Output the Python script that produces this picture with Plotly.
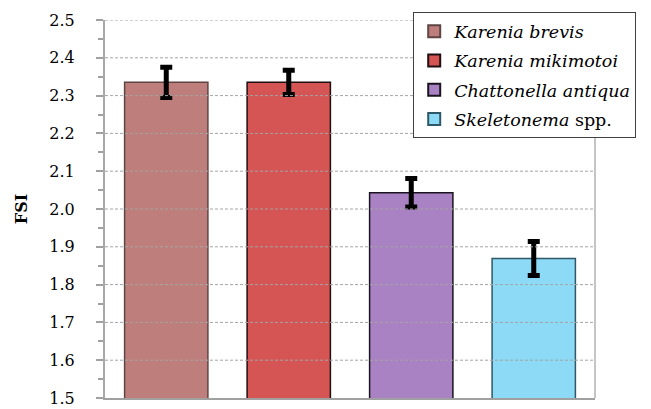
import plotly.graph_objects as go

# Fish-kill susceptibility index by algal species
species = ["Karenia brevis", "Karenia mikimotoi", "Chattonella antiqua", "Skeletonema"]
legend_names = ["<i>Karenia brevis</i>", "<i>Karenia mikimotoi</i>",
                "<i>Chattonella antiqua</i>", "<i>Skeletonema</i> spp."]
fsi = [2.335, 2.335, 2.043, 1.869]
fsi_err = [0.040, 0.032, 0.038, 0.045]
colors = ["#BE7F7C", "#D55454", "#A982C4", "#8CDAF5"]
outlines = ["#5E4544", "#1E1010", "#1A1420", "#2E5868"]
y_ticks = [1.5, 1.6, 1.7, 1.8, 1.9, 2.0, 2.1, 2.2, 2.3, 2.4, 2.5]

FONT = "DejaVu Serif"

fig = go.Figure()
for i, name in enumerate(species):
    fig.add_trace(go.Bar(
        x=[name], y=[fsi[i]],
        name=legend_names[i], legendgroup=name,
        marker=dict(color=colors[i], line=dict(color=outlines[i], width=1.5)),
        error_y=dict(type="data", array=[fsi_err[i]], color="black",
                     thickness=5, width=6),
        base=0,
    ))

# dashed gridlines drawn on top of the bars
for t in y_ticks[1:]:
    fig.add_shape(type="line", xref="paper", yref="y", x0=0, x1=1, y0=t, y1=t,
                  line=dict(color="#A4A4A4", width=1, dash="3px,2px"),
                  layer="above")
# right-hand frame line
fig.add_shape(type="line", xref="paper", yref="paper", x0=1, x1=1, y0=0, y1=1,
              line=dict(color="#8A8A8A", width=1), layer="above")

fig.update_layout(
    width=651, height=409,
    margin=dict(l=105, r=56, t=20, b=11, autoexpand=False),
    paper_bgcolor="white", plot_bgcolor="white",
    barmode="overlay", bargap=0.32,
    font=dict(family=FONT, size=16, color="black"),
    showlegend=True,
    legend=dict(
        x=0.629, y=1.02, xanchor="left", yanchor="top",
        bgcolor="white", bordercolor="#404040", borderwidth=1,
        font=dict(family=FONT, size=17.5, color="black"),
        tracegroupgap=3.5, itemsizing="constant",
    ),
    xaxis=dict(
        showticklabels=False, ticks="", showgrid=False,
        showline=True, linecolor="#A0A0A0", linewidth=2,
        zeroline=False, automargin=False,
    ),
    yaxis=dict(
        range=[1.5, 2.5], tickvals=y_ticks,
        tickformat=".1f", automargin=False,
        ticks="outside", ticklen=7, tickwidth=2, tickcolor="#A0A0A0",
        ticklabelstandoff=18, ticklabeloverflow="allow",
        minor=dict(dtick=0.05, tick0=1.5, ticks="outside", ticklen=5,
                   tickwidth=2, tickcolor="#A0A0A0", showgrid=False),
        showgrid=False, zeroline=False,
        showline=True, linecolor="#A8A8A8", linewidth=2,
        tickfont=dict(family=FONT, size=16, color="black"),
        title=dict(text="<b>FSI</b>", font=dict(family=FONT, size=16, color="black"),
                   standoff=18),
    ),
)

fig.write_html("out.html")
